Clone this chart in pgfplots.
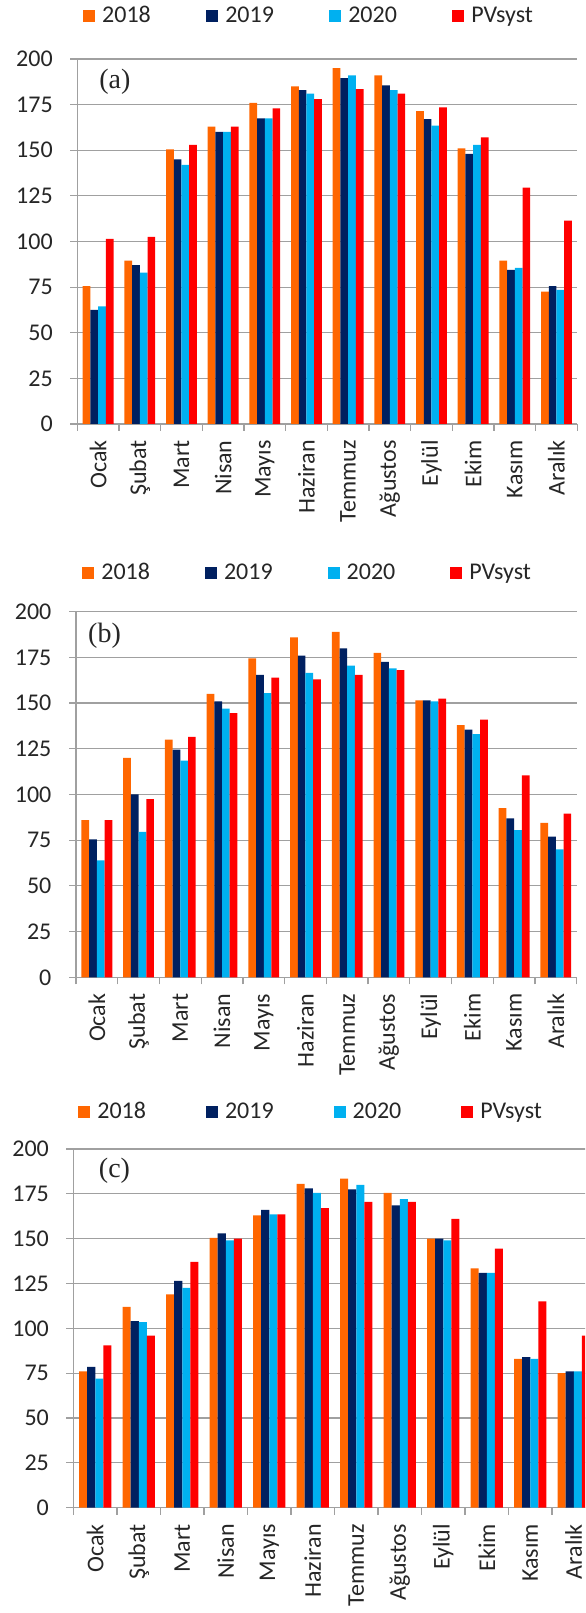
\documentclass[border=0pt]{standalone}
\usepackage{fontspec}
\setmainfont{Carlito}
\newfontfamily\panelfont{Liberation Serif}
\usepackage{pgfplots}
\usepackage{pgfplotstable}
\pgfplotsset{compat=1.18}

\definecolor{c18}{HTML}{FF6600}
\definecolor{c19}{HTML}{002060}
\definecolor{c20}{HTML}{00B0F0}
\definecolor{cpv}{HTML}{FF0000}
\definecolor{gridgray}{HTML}{A0A0A0}
\definecolor{txt}{HTML}{262626}

% monthly values, one table per panel
\pgfplotstableread{
m a18 a19 a20 pv
0 75.5 62.5 64.5 101.5
1 89.5 87.0 83.0 102.5
2 150.5 145.0 142.0 153.0
3 163.0 160.0 160.0 163.0
4 176.0 167.5 167.5 173.0
5 185.0 183.0 181.0 178.0
6 195.0 189.5 191.0 183.5
7 191.0 185.5 183.0 181.0
8 171.5 167.0 163.5 173.5
9 151.0 148.0 153.0 157.0
10 89.5 84.5 85.5 129.5
11 72.5 75.5 73.5 111.5
}\dataA

\pgfplotstableread{
m a18 a19 a20 pv
0 86.0 75.5 64.0 86.0
1 120.0 100.0 79.5 97.5
2 130.0 124.5 118.5 131.5
3 155.0 151.0 147.0 144.5
4 174.5 165.5 155.5 164.0
5 186.0 176.0 166.5 163.0
6 189.0 180.0 170.5 165.5
7 177.5 172.5 169.0 168.0
8 151.5 151.5 151.0 152.5
9 138.0 135.5 133.0 141.0
10 92.5 87.0 80.5 110.5
11 84.5 77.0 70.0 89.5
}\dataB

\pgfplotstableread{
m a18 a19 a20 pv
0 76.0 78.5 72.0 90.5
1 112.0 104.0 103.5 96.0
2 119.0 126.5 122.5 137.0
3 150.5 153.0 149.0 150.0
4 163.0 166.0 163.5 163.5
5 180.5 178.0 175.5 167.0
6 183.5 177.5 180.0 170.5
7 175.5 168.5 172.0 170.5
8 150.0 150.0 149.0 161.0
9 133.5 131.0 131.0 144.5
10 83.0 84.0 83.0 115.0
11 75.0 76.0 76.0 96.0
}\dataC

\pgfplotsset{
  sqleg/.style={legend image code/.code={\fill[##1] (0pt,-3pt) rectangle (6pt,3pt);}},
  panel/.style={
    scale only axis,
    ybar=0pt,
    ymin=0, ymax=200,
    ytick={0,25,...,200},
    xmin=-0.5, xmax=11.5,
    xtick={0,...,11},
    xticklabels={Ocak,Şubat,Mart,Nisan,Mayıs,Haziran,Temmuz,Ağustos,Eylül,Ekim,Kasım,Aralık},
    minor xtick={-0.5,0.5,...,11.5},
    axis lines=left,
    axis line style={-, draw=gridgray, line width=0.6pt},
    ymajorgrids,
    major grid style={draw=gridgray, line width=0.6pt},
    tick align=outside,
    major tick length=3.5pt,
    minor tick length=3.5pt,
    major x tick style={draw=none},
    minor x tick style={draw=gridgray, line width=0.6pt},
    ytick style={draw=gridgray, line width=0.6pt},
    /pgf/number format/assume math mode=true,
    tick label style={font=\fontsize{12}{14}\selectfont, text=txt},
    yticklabel style={anchor=east, inner sep=0pt, xshift=-8.6pt},
    xticklabel style={rotate=90, anchor=east, inner ysep=0pt, inner xsep=4.5pt},
    legend columns=4,
    legend style={draw=none, fill=none, anchor=west, inner sep=0pt,
      font=\fontsize{12}{14}\selectfont, text=txt, nodes={inner sep=0pt},
      /tikz/every odd column/.append style={column sep=3.5pt}},
    clip=false,
  },
  s18/.style={fill=c18, draw=none, sqleg},
  s19/.style={fill=c19, draw=none, sqleg},
  s20/.style={fill=c20, draw=none, sqleg},
  spv/.style={fill=cpv, draw=none, sqleg},
}

\begin{document}
\begin{tikzpicture}
\useasboundingbox (0,0) rectangle (292.5pt,806.5pt);
\clip (0,0) rectangle (292.5pt,806.5pt);

% (a)
\begin{axis}[panel, at={(38.65pt,594.5pt)}, anchor=south west,
  width=250pt, height=182.5pt, bar width=3.85pt,
  legend style={at={(0.011,1.118)},
    /tikz/every even column/.append style={column sep=27.7pt}}]
\addplot[s18] table[x=m,y=a18]{\dataA};
\addplot[s19] table[x=m,y=a19]{\dataA};
\addplot[s20] table[x=m,y=a20]{\dataA};
\addplot[spv] table[x=m,y=pv]{\dataA};
\legend{2018,2019,2020,PVsyst}
\node[font=\panelfont\fontsize{14}{16}\selectfont, text=txt] at (axis description cs:0.075,0.937) {(a)};
\end{axis}

% (b)
\begin{axis}[panel, at={(38pt,317.85pt)}, anchor=south west,
  width=250.35pt, height=182.8pt, bar width=3.85pt,
  legend style={at={(0.012,1.106)},
    /tikz/every even column/.append style={column sep=27.5pt}}]
\addplot[s18] table[x=m,y=a18]{\dataB};
\addplot[s19] table[x=m,y=a19]{\dataB};
\addplot[s20] table[x=m,y=a20]{\dataB};
\addplot[spv] table[x=m,y=pv]{\dataB};
\legend{2018,2019,2020,PVsyst}
\node[font=\panelfont\fontsize{14}{16}\selectfont, text=txt] at (axis description cs:0.057,0.933) {(b)};
\end{axis}

% (c)
\begin{axis}[panel, at={(36.75pt,52.65pt)}, anchor=south west,
  width=261pt, height=179.35pt, bar width=4.05pt,
  legend style={at={(0.0086,1.103)},
    /tikz/every even column/.append style={column sep=30pt}}]
\addplot[s18] table[x=m,y=a18]{\dataC};
\addplot[s19] table[x=m,y=a19]{\dataC};
\addplot[s20] table[x=m,y=a20]{\dataC};
\addplot[spv] table[x=m,y=pv]{\dataC};
\legend{2018,2019,2020,PVsyst}
\node[font=\panelfont\fontsize{14}{16}\selectfont, text=txt] at (axis description cs:0.0785,0.939) {(c)};
\end{axis}
\end{tikzpicture}
\end{document}
